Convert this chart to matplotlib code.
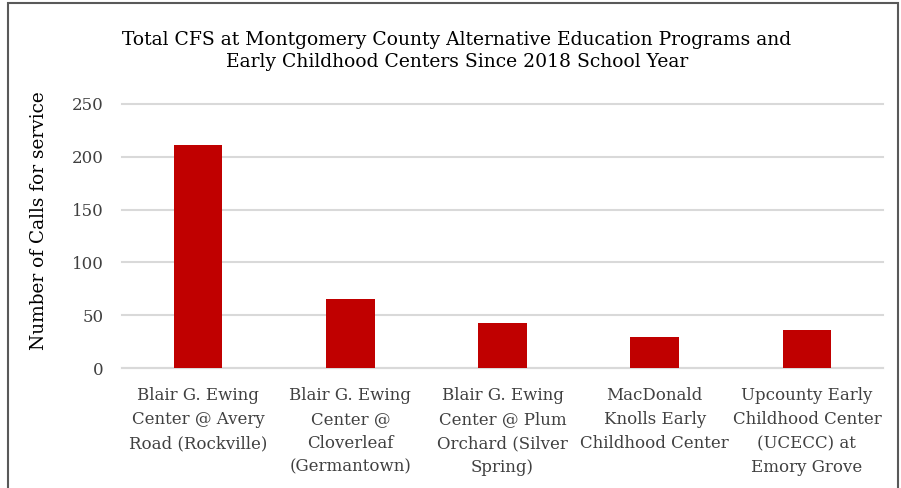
import matplotlib.pyplot as plt
from matplotlib.patches import Rectangle

categories = [
    "Blair G. Ewing\nCenter @ Avery\nRoad (Rockville)",
    "Blair G. Ewing\nCenter @\nCloverleaf\n(Germantown)",
    "Blair G. Ewing\nCenter @ Plum\nOrchard (Silver\nSpring)",
    "MacDonald\nKnolls Early\nChildhood Center",
    "Upcounty Early\nChildhood Center\n(UCECC) at\nEmory Grove",
]
calls = [211, 65, 43, 29, 36]
yticks = [0, 50, 100, 150, 200, 250]

title = ("Total CFS at Montgomery County Alternative Education Programs and\n"
         "Early Childhood Centers Since 2018 School Year")

plt.rcParams["font.family"] = ["DejaVu Serif"]
grey_text = "#404040"

fig = plt.figure(figsize=(9.01, 4.88), dpi=100)
ax = fig.add_axes([0.1354, 0.2459, 0.8446, 0.5410])

x = range(len(categories))
ax.bar(x, calls, width=0.32, color="#c00000", zorder=3)

ax.set_xlim(-0.5, len(categories) - 0.5)
ax.set_ylim(0, 250)
ax.set_yticks(yticks)
ax.set_yticklabels([str(v) for v in yticks], fontsize=12, color=grey_text)
ax.set_xticks(list(x))
ax.set_xticklabels(categories, fontsize=12, color=grey_text, linespacing=1.52, va="top")
ax.tick_params(axis="y", length=0, pad=13)
ax.tick_params(axis="x", length=0, pad=14)

ax.grid(axis="y", color="#d9d9d9", linewidth=1.5, zorder=0)
for gl in ax.get_ygridlines():
    gl.set_clip_on(False)
for side in ["top", "right", "left"]:
    ax.spines[side].set_visible(False)
ax.spines["bottom"].set_color("#d9d9d9")
ax.spines["bottom"].set_linewidth(1.5)

ax.set_ylabel("Number of Calls for service", fontsize=13.3, color="#000000")
ax.yaxis.set_label_coords(-0.097, 0.557)

fig.text(0.507, 0.895, title, ha="center", va="center", fontsize=13.5,
         linespacing=1.25, color="#000000")

# frame around the chart area (bottom edge is cut off in the original)
fig.patches.append(Rectangle((0.009, -0.1), 0.988, 1.094, transform=fig.transFigure,
                             fill=False, edgecolor="#595959", linewidth=1.5))

fig.savefig("out.png", dpi=100)
